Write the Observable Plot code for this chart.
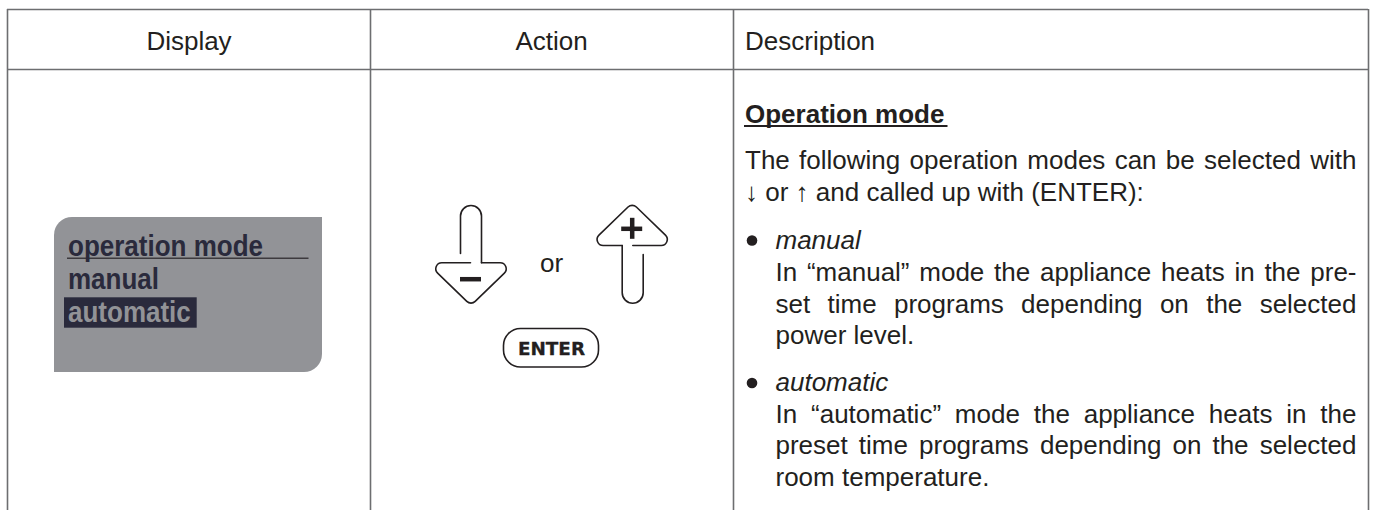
<!DOCTYPE html>
<html><head><meta charset="utf-8">
<script src="https://cdn.jsdelivr.net/npm/d3@7"></script>
<script src="https://cdn.jsdelivr.net/npm/@observablehq/plot@0.6"></script>
<style>html,body{margin:0;padding:0;background:#fff}svg{display:block}</style>
</head><body><div id="chart"></div>
<script>
const headers = [
  {text: "Display", x: 188.5, anchor: "middle"},
  {text: "Action", x: 551, anchor: "middle"},
  {text: "Description", x: 744.5, anchor: "start"}
];
const verticals = [7, 370, 733, 1368];
const horizontals = [9, 69];
const paragraphs = [
  {text: "The following operation modes can be selected with", x: 744.5, y: 168, end: 1356},
  {text: "In \u201cmanual\u201d mode the appliance heats in the pre-", x: 775, y: 280, end: 1356},
  {text: "set time programs depending on the selected", x: 775, y: 312, end: 1356},
  {text: "In \u201cautomatic\u201d mode the appliance heats in the", x: 775, y: 422, end: 1356},
  {text: "preset time programs depending on the selected", x: 775, y: 453.5, end: 1356}
];
const plainLines = [
  {text: "\u2193 or \u2191 and called up with (ENTER):", x: 744.5, y: 200},
  {text: "power level.", x: 775, y: 343.5},
  {text: "room temperature.", x: 775, y: 485}
];
const modes = [{text: "manual", x: 775, y: 248}, {text: "automatic", x: 775, y: 390.5}];
const bullets = [{x: 751.5, y: 240}, {x: 751.5, y: 382.5}];
const displayLines = [
  {text: "operation mode", y: 255, fill: "#2a2a3c"},
  {text: "manual", y: 288.5, fill: "#2a2a3c"},
  {text: "automatic", y: 321, fill: "#929397"}
];
const stemDown = [[460,253],[460,205],[481,205],[481,262.3]];
const headDown = [[481,262.3],[514.5,262.3],[470.5,305],[426.5,262.3],[470,262.3]];
const headUp = [[632.3,245],[675.6,245],[631.7,202.5],[587.8,245],[621.7,245]];
const stemUp = [[621.7,245],[621.7,302.7],[642.7,302.7],[642.7,254]];

const roundedCurve = r => context => {
  let pts = [];
  return {
    areaStart(){}, areaEnd(){},
    lineStart(){ pts = []; },
    point(x, y){ pts.push([+x, +y]); },
    lineEnd(){
      context.moveTo(pts[0][0], pts[0][1]);
      for (let i = 1; i < pts.length - 1; i++) context.arcTo(pts[i][0], pts[i][1], pts[i+1][0], pts[i+1][1], r);
      const l = pts[pts.length - 1];
      context.lineTo(l[0], l[1]);
    }
  };
};
const ink = "#231f20", grid = "#6d6e70", panel = "#929397", dark = "#2a2a3c";
const font = "Liberation Sans";
const iconLine = (pts, r) => Plot.line(pts, {x: d => d[0], y: d => d[1], stroke: ink, strokeWidth: 1.6, curve: roundedCurve(r)});
const txt = (data, o) => Plot.text(data, {x: "x", y: "y", text: "text", textAnchor: "start", lineAnchor: "bottom", fill: ink, fontSize: 26, ...o});

const svg = Plot.plot({
  width: 1375, height: 510, margin: 0,
  x: {domain: [0, 1375], range: [0, 1375], axis: null},
  y: {domain: [0, 510], range: [0, 510], axis: null},
  style: {fontFamily: font, background: "#fff"},
  marks: [
    // table grid
    Plot.ruleX(verticals, {x: d => d, y1: 9, y2: 510, stroke: grid, strokeWidth: 1.6}),
    Plot.ruleY(horizontals, {y: d => d, x1: 7, x2: 1368, stroke: grid, strokeWidth: 1.6}),
    // header
    Plot.text(headers, {x: "x", y: () => 49, text: "text", textAnchor: "start", lineAnchor: "bottom", fill: ink, fontSize: 26, filter: d => d.anchor === "start"}),
    Plot.text(headers, {x: "x", y: () => 49, text: "text", textAnchor: "middle", lineAnchor: "bottom", fill: ink, fontSize: 26, filter: d => d.anchor === "middle"}),
    // display panel
    Plot.rect([0], {x1: () => 54, x2: () => 322, y1: () => 217, y2: () => 372, fill: panel, rx: 18}),
    Plot.rect([0,1], {x1: (d) => d ? 54 : 300, x2: (d) => d ? 80 : 322, y1: (d) => d ? 340 : 217, y2: (d) => d ? 372 : 250, fill: panel}),
    Plot.rect([0], {x1: () => 64, x2: () => 196.7, y1: () => 297.3, y2: () => 327.7, fill: dark}),
    Plot.ruleY([257.7], {x1: 67, x2: 308.5, stroke: "#3d3a3e", strokeWidth: 1.5}),
    Plot.text(displayLines, {x: () => 67.5, y: "y", text: "text", fill: "fill", textAnchor: "start", lineAnchor: "bottom", fontSize: 29, fontWeight: "bold", className: "condensed"}),
    // action icons
    iconLine(stemDown, 10.5), iconLine(headDown, 6),
    iconLine(headUp, 6), iconLine(stemUp, 10.5),
    Plot.ruleY([278.7], {x1: 460, x2: 481, stroke: ink, strokeWidth: 4.5}),
    Plot.ruleY([228.3], {x1: 621.2, x2: 642.2, stroke: ink, strokeWidth: 4.5}),
    Plot.ruleX([631.7], {y1: 217.8, y2: 238.8, stroke: ink, strokeWidth: 4.5}),
    Plot.text(["or"], {x: () => 551, y: () => 271.5, text: d => d, fill: ink, fontSize: 26, lineAnchor: "bottom"}),
    Plot.rect([0], {x1: () => 503.5, x2: () => 598.5, y1: () => 328.5, y2: () => 367, fill: "#fff", stroke: ink, strokeWidth: 1.6, rx: 17}),
    Plot.text(["ENTER"], {x: () => 551, y: () => 354.5, text: d => d, fill: ink, stroke: ink, strokeWidth: 0.3, fontSize: 17.5, fontWeight: "bold", lineAnchor: "bottom", fontFamily: "DejaVu Sans", className: "enter"}),
    // description column
    txt([{text: "Operation mode", x: 744.5, y: 122}], {fontWeight: "bold"}),
    Plot.ruleY([125.5], {x1: 744, x2: 947.5, stroke: ink, strokeWidth: 2}),
    txt(paragraphs, {className: "justified"}),
    txt(plainLines),
    txt(modes, {fontStyle: "italic"}),
    Plot.dot(bullets, {x: "x", y: "y", r: 5.3, fill: ink})
  ]
});
document.getElementById("chart").append(svg);
svg.querySelectorAll(".justified text").forEach((t, i) => {
  const p = paragraphs[i], gaps = p.text.split(" ").length - 1;
  t.setAttribute("word-spacing", ((p.end - p.x - t.getComputedTextLength()) / gaps).toFixed(2));
});
svg.querySelectorAll(".condensed text").forEach(t => {
  t.setAttribute("textLength", (t.getComputedTextLength() * 26 / 29).toFixed(2));
  t.setAttribute("lengthAdjust", "spacingAndGlyphs");
});
svg.querySelectorAll(".enter text").forEach(t => {
  t.setAttribute("textLength", "67");
  t.setAttribute("lengthAdjust", "spacingAndGlyphs");
});
</script></body></html>
